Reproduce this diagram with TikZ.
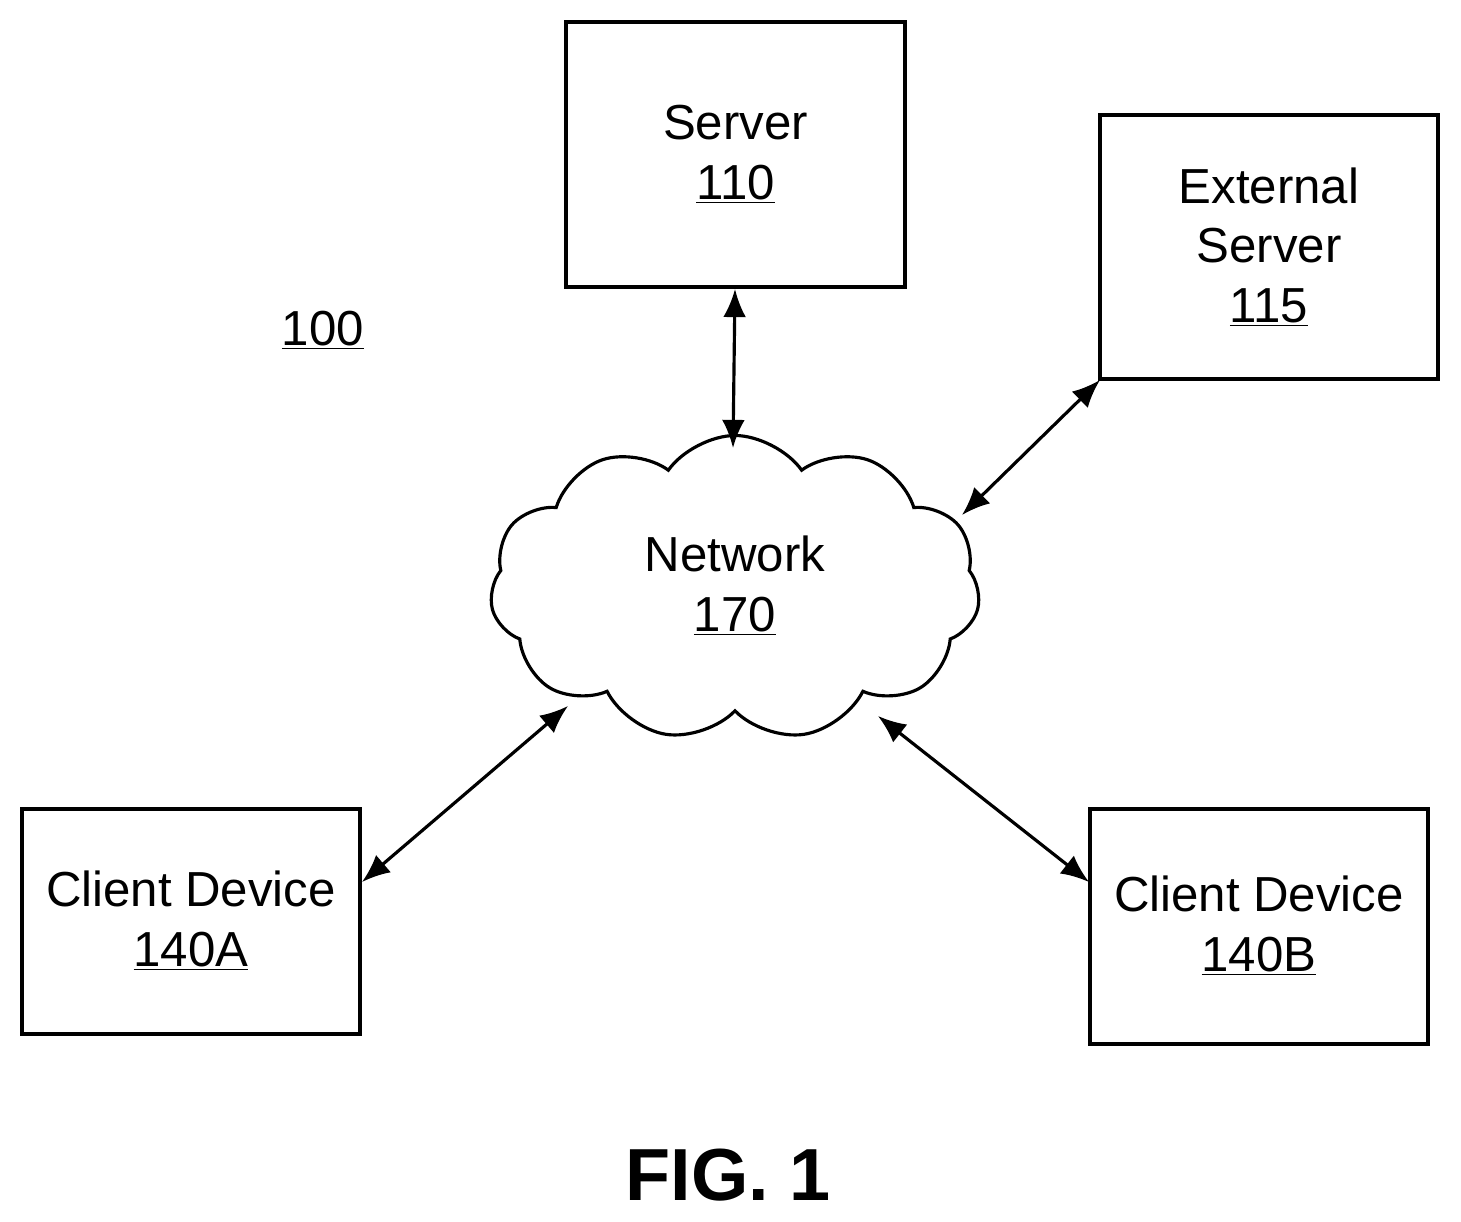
\documentclass[tikz,border=0pt]{standalone}
\usepackage{fontspec}
\setmainfont{Liberation Sans}
\usetikzlibrary{shapes.symbols,arrows.meta}
\begin{document}
\begin{tikzpicture}[x=0.02cm,y=-0.02cm,
  box/.style={draw,line width=1.8pt},
  lbl/.style={align=center,font=\fontsize{28}{34}\selectfont},
  conn/.style={line width=1.8pt,{Latex[length=16pt,width=13pt]}-{Latex[length=16pt,width=13pt]}}]
\useasboundingbox (0,0) rectangle (1461,1222);
\draw[box] (566,22) rectangle (905,287);
\node[lbl] (srv) at (735.5,154.5) {Server\\\underline{110}};
\coordinate (srvb) at (735,289);
\draw[box] (1100,115) rectangle (1438,379);
\node[lbl] (ext) at (1269,247) {External\\Server\\\underline{115}};
\coordinate (extc) at (1100,380);
\draw[box] (22,809) rectangle (360,1034);
\node[lbl] (ca) at (191,921) {Client Device\\\underline{140A}};
\coordinate (cac) at (362,882);
\draw[box] (1090,809) rectangle (1428,1044);
\node[lbl] (cb) at (1259,926) {Client Device\\\underline{140B}};
\coordinate (cbc) at (1089,882);
\node[cloud,draw,line width=1.8pt,cloud puffs=11,cloud puff arc=110,minimum width=490*0.02cm,minimum height=305*0.02cm,inner sep=0pt] (net) at (735,588) {};
\node[lbl] at (735,586) {Network\\\underline{170}};
\coordinate (n1) at (733,448);
\coordinate (n2) at (962,515);
\coordinate (n3) at (568,706);
\coordinate (n4) at (878,716);
\node[lbl] (l100) at (323,330) {\underline{100}};
\node[font=\fontsize{42}{48}\selectfont\bfseries] (fig) at (728,1175) {FIG. 1};
\draw[conn] (srvb) -- (n1);
\draw[conn] (extc) -- (n2);
\draw[conn] (cac) -- (n3);
\draw[conn] (cbc) -- (n4);
\end{tikzpicture}
\end{document}
